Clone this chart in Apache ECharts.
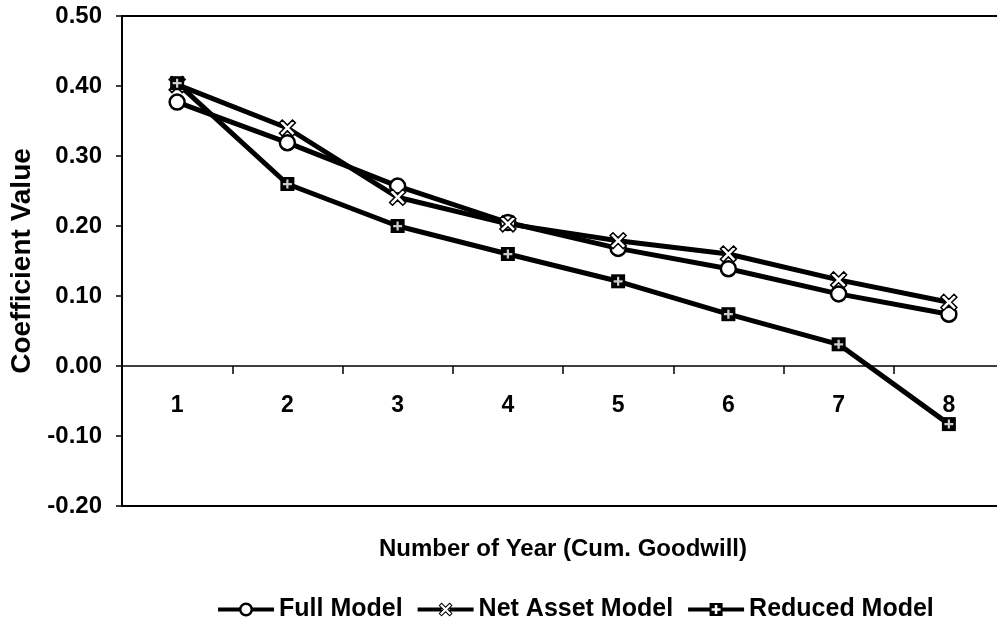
<!DOCTYPE html>
<html>
<head>
<meta charset="utf-8">
<script src="https://cdn.jsdelivr.net/npm/echarts@6/dist/echarts.min.js"></script>
<style>html,body{margin:0;padding:0;background:#fff}#c{width:997px;height:631px}</style>
</head>
<body>
<div id="c"></div>
<script>
var categories = ['1', '2', '3', '4', '5', '6', '7', '8'];
var fullModel = [0.377, 0.319, 0.257, 0.205, 0.168, 0.139, 0.103, 0.074];
var netAssetModel = [0.402, 0.340, 0.241, 0.203, 0.179, 0.160, 0.123, 0.091];
var reducedModel = [0.404, 0.260, 0.200, 0.160, 0.121, 0.074, 0.031, -0.083];
var yMin = -0.2, yMax = 0.5, yStep = 0.1;

var FONT = '"Liberation Sans", Arial, Helvetica, sans-serif';
var xSym = 'path://M0,2.5L2.5,0L7,4.5L11.5,0L14,2.5L9.5,7L14,11.5L11.5,14L7,9.5L2.5,14L0,11.5L4.5,7Z';
var plusSym = 'path://M3,0L5,0L5,3L8,3L8,5L5,5L5,8L3,8L3,5L0,5L0,3L3,3Z';

var legCircle = 'path://M0,5L21.4,5L21.4,9L0,9Z M34.6,5L56,5L56,9L34.6,9Z ' +
  'M21,7A7,7 0 1,1 35,7A7,7 0 1,1 21,7Z M23.5,7A4.5,4.5 0 1,0 32.5,7A4.5,4.5 0 1,0 23.5,7Z';
var legX = 'path://M0,5L24,5L24,9L0,9Z M32,5L56,5L56,9L32,9Z ' +
  'M21,3L24,0L28,4L32,0L35,3L31,7L35,11L32,14L28,10L24,14L21,11L25,7Z ' +
  'M26.4,7L22.4,11L24,12.6L28,8.6L32,12.6L33.6,11L29.6,7L33.6,3L32,1.4L28,5.4L24,1.4L22.4,3Z';
var legSq = 'path://M0,5L21.5,5L21.5,9L0,9Z M34.5,5L56,5L56,9L34.5,9Z ' +
  'M21.5,0.5L34.5,0.5L34.5,13.5L21.5,13.5Z ' +
  'M26.7,5.7L23.5,5.7L23.5,8.3L26.7,8.3L26.7,11.5L29.3,11.5L29.3,8.3L32.5,8.3L32.5,5.7L29.3,5.7L29.3,2.5L26.7,2.5Z';

var chart = echarts.init(document.getElementById('c'));
chart.setOption({
  animation: false,
  backgroundColor: '#fff',
  textStyle: { fontFamily: FONT },
  grid: { left: 122, top: 16, bottom: 125, right: -7, outerBoundsMode: 'none', containLabel: false,
    show: true, borderColor: '#000', borderWidth: 2, backgroundColor: 'transparent' },
  legend: {
    left: 213, top: 592,
    itemWidth: 56, itemHeight: 14, itemGap: 15,
    selectedMode: false,
    textStyle: { fontFamily: FONT, fontSize: 25, fontWeight: 'bold', color: '#000' },
    data: [
      { name: 'Full Model', icon: legCircle, itemStyle: { color: '#000', borderWidth: 0 } },
      { name: 'Net Asset Model', icon: legX, itemStyle: { color: '#000', borderWidth: 0 } },
      { name: 'Reduced Model', icon: legSq, itemStyle: { color: '#000', borderWidth: 0 } }
    ]
  },
  xAxis: {
    type: 'category',
    data: categories,
    boundaryGap: true,
    offset: -140,
    name: 'Number of Year (Cum. Goodwill)',
    nameLocation: 'middle',
    nameGap: 171,
    nameTextStyle: { fontFamily: FONT, fontSize: 24, fontWeight: 'bold', color: '#000' },
    axisLine: { onZero: false, lineStyle: { color: '#000', width: 1.5 } },
    axisTick: { show: true, length: 8, lineStyle: { color: '#000', width: 1.5 } },
    axisLabel: { margin: 28, fontFamily: FONT, fontSize: 23, fontWeight: 'bold', color: '#000' },
    splitLine: { show: false }
  },
  yAxis: {
    type: 'value',
    min: yMin, max: yMax, interval: yStep,
    name: 'Coefficient Value',
    nameLocation: 'middle',
    nameGap: 86,
    nameTextStyle: { fontFamily: FONT, fontSize: 28, fontWeight: 'bold', color: '#000' },
    axisLine: { show: true, lineStyle: { color: '#000', width: 2 } },
    axisTick: { show: true, length: 6, lineStyle: { color: '#000', width: 1.5 } },
    axisLabel: { margin: 20, fontFamily: FONT, fontSize: 24, fontWeight: 'bold', color: '#000',
      formatter: function (v) { return v.toFixed(2); } },
    splitLine: { show: false }
  },
  series: [
    { name: 'Full Model', type: 'line', data: fullModel,
      symbol: 'circle', symbolSize: 15,
      lineStyle: { color: '#000', width: 5 },
      itemStyle: { color: '#fff', borderColor: '#000', borderWidth: 2.5 } },
    { name: 'Net Asset Model', type: 'line', data: netAssetModel,
      symbol: xSym, symbolSize: 16,
      lineStyle: { color: '#000', width: 5 },
      itemStyle: { color: '#fff', borderColor: '#000', borderWidth: 1.5 } },
    { name: 'Reduced Model', type: 'line', data: reducedModel,
      symbol: 'rect', symbolSize: 14,
      lineStyle: { color: '#000', width: 5 },
      itemStyle: { color: '#000', borderWidth: 0 } },
    { name: 'reducedPlus', type: 'scatter', data: reducedModel, z: 5, silent: true,
      symbol: plusSym, symbolSize: 9,
      itemStyle: { color: '#fff' } }
  ]
});
</script>
</body>
</html>
